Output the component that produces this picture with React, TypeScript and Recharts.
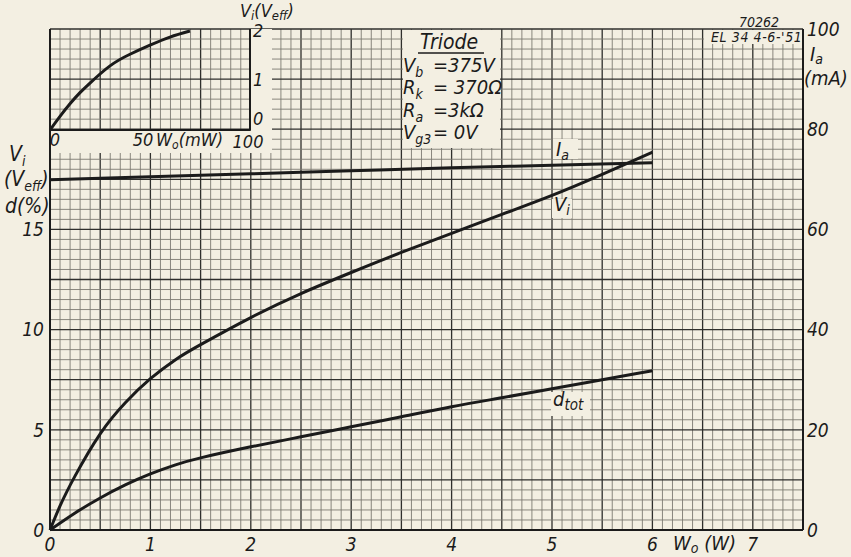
import React from 'react';
import { LineChart, Line, XAxis, YAxis, ReferenceLine } from 'recharts';

const PAPER = '#f3efe2';
const INK = '#1b1b1b';
const FONT = "'DejaVu Sans Condensed', 'Liberation Sans Narrow', 'DejaVu Sans', sans-serif";

// Vi (Veff) against Wo (W)
const viW = [0, 0.1, 0.25, 0.5, 0.75, 1, 1.25, 1.5, 2, 2.5, 3, 3.5, 4, 4.5, 5, 5.5, 6];
const viVeff = [0, 1.2, 2.7, 4.8, 6.35, 7.55, 8.5, 9.25, 10.6, 11.8, 12.85, 13.85, 14.8, 15.75, 16.7, 17.75, 18.85];

// d_tot (%) against Wo (W)
const dW = [0, 0.25, 0.5, 0.75, 1, 1.25, 1.5, 2, 2.5, 3, 3.5, 4, 4.5, 5, 5.5, 6];
const dTot = [0, 0.85, 1.6, 2.25, 2.8, 3.25, 3.6, 4.15, 4.65, 5.15, 5.65, 6.15, 6.6, 7.05, 7.5, 7.95];

// Ia (mA) against Wo (W)
const iaW = [0, 1, 2, 3, 4, 5, 6];
const iaMa = [69.9, 70.5, 71.1, 71.7, 72.3, 72.8, 73.3];

// inset: Vi (Veff) against Wo (mW)
const insetMw = [0, 5, 10, 15, 20, 30, 40, 50, 60, 70];
const insetV = [0, 0.27, 0.52, 0.74, 0.93, 1.27, 1.5, 1.68, 1.84, 1.96];

const wTicks = [0, 1, 2, 3, 4, 5, 6, 7];
const leftTicks = [0, 5, 10, 15];
const rightTicks = [0, 20, 40, 60, 80, 100];
const insetXTicks = [0, 50, 100];
const insetYTicks = [0, 1, 2];

// graph paper: 0.1 W and 0.5 unit cells, heavier every 0.5 W / 2.5 units
const gridX = Array.from({ length: 76 }, (_, i) => i / 10);
const gridY = Array.from({ length: 51 }, (_, i) => i / 2);

const toRows = (xs: number[], ys: number[], key: string) => xs.map((x, i) => ({ w: x, [key]: ys[i] }));

const viData = toRows(viW, viVeff, 'v');
const dData = toRows(dW, dTot, 'v');
const iaData = toRows(iaW, iaMa, 'v');
const insetData = toRows(insetMw, insetV, 'v');

const tickStyle = { fill: INK, fontSize: 19, fontStyle: 'italic', fontFamily: FONT };

const fineLine = { stroke: '#7d7b72', strokeWidth: 0.9 };
const heavyLine = { stroke: '#2f2f2c', strokeWidth: 1.3 };

// inset ticks are hand-lettered a little off-centre
const InsetXTick = (props: any) => {
  const { x, y, payload } = props;
  const shift = payload.value === 0 ? 5 : payload.value === 50 ? -7 : -2;
  const down = payload.value === 100 ? 2 : 0;
  return (
    <text x={x + shift} y={y + down} dy="0.71em" textAnchor="middle" {...tickStyle} fontSize={18}>
      {payload.value}
    </text>
  );
};

const InsetYTick = (props: any) => {
  const { x, y, payload } = props;
  const shift = payload.value === 0 ? -11 : payload.value === 2 ? 2 : 0;
  return (
    <text x={x} y={y + shift} dy="0.35em" textAnchor="start" {...tickStyle} fontSize={18}>
      {payload.value}
    </text>
  );
};

const Overlay = () => (
  <svg width={851} height={557} style={{ position: 'absolute', left: 0, top: 0 }}>
    {/* blank patches on the graph paper */}
    <rect x={51} y={131} width={221} height={22} fill={PAPER} />
    <rect x={251} y={29} width={21} height={124} fill={PAPER} />
    <rect x={403} y={30} width={97} height={118} fill={PAPER} />
    <rect x={704} y={30} width={98} height={14} fill={PAPER} />
    <rect x={553} y={139} width={25} height={20} fill={PAPER} />
    <rect x={552} y={199} width={20} height={19} fill={PAPER} />
    <rect x={551} y={392} width={39} height={24} fill={PAPER} />

    <g fill={INK} fontFamily={FONT} fontStyle="italic">
      {/* left axis title */}
      <text x={9} y={161} fontSize={21}>
        <tspan>V</tspan>
        <tspan dy={5} fontSize={14}>i</tspan>
      </text>
      <text x={4} y={186} fontSize={21}>
        <tspan>(V</tspan>
        <tspan dy={5} fontSize={14}>eff</tspan>
        <tspan dy={-5}>)</tspan>
      </text>
      <text x={5} y={213} fontSize={21}>d(%)</text>

      {/* right axis title */}
      <text x={810} y={61} fontSize={20}>
        <tspan>I</tspan>
        <tspan dy={3} fontSize={14}>a</tspan>
      </text>
      <text x={804} y={85} fontSize={20}>(mA)</text>

      {/* x axis title */}
      <text x={673} y={550} fontSize={20}>
        <tspan>W</tspan>
        <tspan dy={3} fontSize={14}>o</tspan>
        <tspan dy={-3}> (W)</tspan>
      </text>

      {/* inset titles */}
      <text x={240} y={17} fontSize={18}>
        <tspan>V</tspan>
        <tspan dy={3} fontSize={13}>i</tspan>
        <tspan dy={-3}>(V</tspan>
        <tspan dy={3} fontSize={13}>eff</tspan>
        <tspan dy={-3}>)</tspan>
      </text>
      <text x={156} y={146} fontSize={18}>
        <tspan>W</tspan>
        <tspan dy={3} fontSize={12}>o</tspan>
        <tspan dy={-3}>(mW)</tspan>
      </text>

      {/* parameters */}
      <text x={420} y={49} fontSize={21}>Triode</text>
      <line x1={418} y1={53} x2={484} y2={53} stroke={INK} strokeWidth={1.5} />
      <text x={403} y={72} fontSize={20}>
        <tspan>V</tspan>
        <tspan dy={5} fontSize={14}>b</tspan>
      </text>
      <text x={433} y={72} fontSize={20}>=375V</text>
      <text x={403} y={94} fontSize={20}>
        <tspan>R</tspan>
        <tspan dy={5} fontSize={14}>k</tspan>
      </text>
      <text x={433} y={94} fontSize={20}>= 370Ω</text>
      <text x={403} y={117} fontSize={20}>
        <tspan>R</tspan>
        <tspan dy={5} fontSize={14}>a</tspan>
      </text>
      <text x={433} y={117} fontSize={20}>=3kΩ</text>
      <text x={403} y={139} fontSize={20}>
        <tspan>V</tspan>
        <tspan dy={5} fontSize={14}>g3</tspan>
      </text>
      <text x={433} y={139} fontSize={20}>= 0V</text>

      {/* drawing number */}
      <text x={739} y={27} fontSize={14}>70262</text>
      <text x={711} y={42} fontSize={14} letterSpacing={0.6}>EL 34  4-6-'51</text>

      {/* curve labels */}
      <text x={556} y={156} fontSize={20}>
        <tspan>I</tspan>
        <tspan dy={4} fontSize={14}>a</tspan>
      </text>
      <text x={554} y={211} fontSize={20}>
        <tspan>V</tspan>
        <tspan dy={4} fontSize={14}>i</tspan>
      </text>
      <text x={553} y={406} fontSize={20}>
        <tspan>d</tspan>
        <tspan dy={4} fontSize={15}>tot</tspan>
      </text>
    </g>
  </svg>
);

export default function App() {
  return (
    <div style={{ position: 'absolute', left: 0, top: 0, width: 851, height: 557, background: PAPER, overflow: 'hidden' }}>
      <LineChart width={851} height={557} margin={{ top: 29, right: 0, bottom: 0, left: 0 }}>
        <XAxis
          dataKey="w"
          type="number"
          domain={[0, 7.5]}
          ticks={wTicks}
          allowDuplicatedCategory={false}
          height={27}
          tickSize={0}
          tickMargin={8}
          axisLine={{ stroke: INK, strokeWidth: 2 }}
          tick={tickStyle}
        />
        <YAxis
          yAxisId="left"
          type="number"
          domain={[0, 25]}
          ticks={leftTicks}
          width={50}
          tickSize={0}
          tickMargin={6}
          axisLine={{ stroke: INK, strokeWidth: 2 }}
          tick={tickStyle}
        />
        <YAxis
          yAxisId="right"
          orientation="right"
          type="number"
          domain={[0, 100]}
          ticks={rightTicks}
          width={48}
          tickSize={0}
          tickMargin={4}
          axisLine={{ stroke: INK, strokeWidth: 2 }}
          tick={tickStyle}
        />
        {gridX.map((x, i) => (
          <ReferenceLine key={`gx${i}`} yAxisId="left" x={x} {...(i % 5 === 0 ? heavyLine : fineLine)} />
        ))}
        {gridY.map((y, i) => (
          <ReferenceLine key={`gy${i}`} yAxisId="left" y={y} {...(i % 5 === 0 ? heavyLine : fineLine)} />
        ))}
        <Line yAxisId="left" data={viData} dataKey="v" type="natural" stroke={INK} strokeWidth={3} dot={false} isAnimationActive={false} />
        <Line yAxisId="left" data={dData} dataKey="v" type="natural" stroke={INK} strokeWidth={3} dot={false} isAnimationActive={false} />
        <Line yAxisId="right" data={iaData} dataKey="v" type="monotone" stroke={INK} strokeWidth={3} dot={false} isAnimationActive={false} />
      </LineChart>

      <Overlay />

      <div style={{ position: 'absolute', left: 0, top: 0 }}>
        <LineChart width={300} height={160} data={insetData} margin={{ top: 29, right: 0, bottom: 0, left: 50 }}>
          <XAxis
            dataKey="w"
            type="number"
            domain={[0, 100]}
            ticks={insetXTicks}
            height={30}
            tickSize={0}
            tickMargin={3}
            axisLine={{ stroke: INK, strokeWidth: 2 }}
            tick={<InsetXTick />}
          />
          <YAxis
            orientation="right"
            type="number"
            domain={[0, 2]}
            ticks={insetYTicks}
            width={50}
            tickSize={0}
            tickMargin={3}
            axisLine={{ stroke: INK, strokeWidth: 2 }}
            tick={<InsetYTick />}
          />
          <Line dataKey="v" type="natural" stroke={INK} strokeWidth={3} dot={false} isAnimationActive={false} />
        </LineChart>
      </div>
    </div>
  );
}
